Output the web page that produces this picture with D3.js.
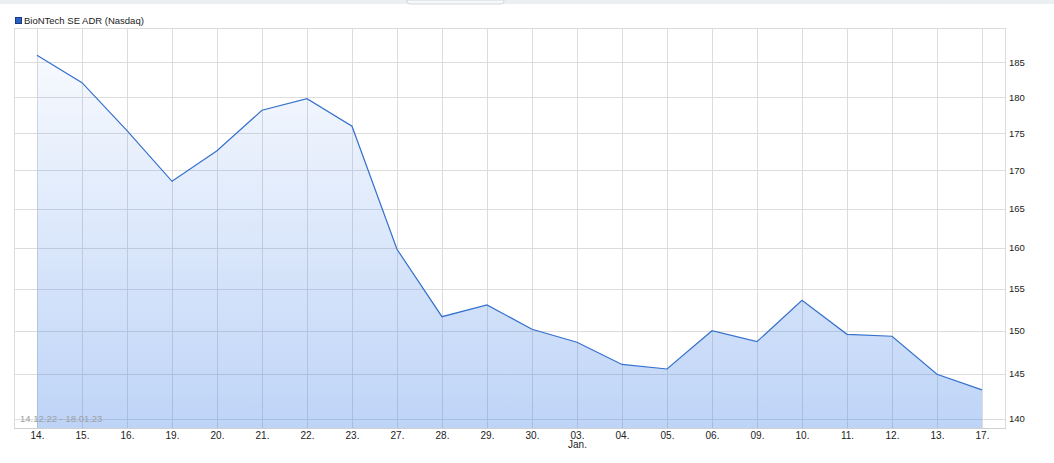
<!DOCTYPE html>
<html>
<head>
<meta charset="utf-8">
<script src="https://cdn.jsdelivr.net/npm/d3@7"></script>
<style>
  html, body { margin: 0; padding: 0; background: #fff; }
  svg { display: block; }
  text { font-family: "Liberation Sans", Arial, sans-serif; }
</style>
</head>
<body>
<svg id="chart" width="1054" height="463"></svg>
<script>
const categories = ["14.", "15.", "16.", "19.", "20.", "21.", "22.", "23.", "27.", "28.", "29.", "30.", "03.", "04.", "05.", "06.", "09.", "10.", "11.", "12.", "13.", "17."];
const subLabels = { "03.": "Jan." };
const prices = [186.0, 182.05, 175.35, 168.55, 172.63, 178.17, 179.79, 175.97, 159.83, 151.63, 153.03, 150.15, 148.63, 146.08, 145.56, 149.98, 148.70, 153.59, 149.56, 149.33, 144.96, 143.20];
const yTicks = [140, 145, 150, 155, 160, 165, 170, 175, 180, 185];
const seriesName = "BioNTech SE ADR (Nasdaq)";
const rangeLabel = "14.12.22 - 18.01.23";

(function () {
const svg = d3.select("#chart");
const pLeft = 14, pRight = 1005, pTop = 28, pBottom = 428;

// top bar and tab
svg.append("rect").attr("x", 0).attr("y", 0).attr("width", 1054).attr("height", 4).attr("fill", "#eceff2");
svg.append("path")
  .attr("d", "M407,0 L407,1 Q407,4 410,4 L501,4 Q504,4 504,1 L504,0 Z")
  .attr("fill", "#f7f8f9").attr("stroke", "#d4d7db").attr("stroke-width", 1);

const x = d3.scalePoint().domain(categories).range([37, 982]);
const y = d3.scaleLog().domain([139, 190]).range([pBottom, pTop]);

const defs = svg.append("defs");
const grad = defs.append("linearGradient").attr("id", "fillGrad")
  .attr("gradientUnits", "userSpaceOnUse").attr("x1", 0).attr("y1", pTop).attr("x2", 0).attr("y2", pBottom);
grad.append("stop").attr("offset", "0%").attr("stop-color", "rgb(69,132,232)").attr("stop-opacity", 0.02);
grad.append("stop").attr("offset", "100%").attr("stop-color", "rgb(69,132,232)").attr("stop-opacity", 0.35);

// gridlines
const grid = svg.append("g");
grid.selectAll("line.h").data(yTicks).enter().append("line")
  .attr("x1", pLeft).attr("x2", pRight)
  .attr("y1", d => Math.round(y(d)) + 0.5).attr("y2", d => Math.round(y(d)) + 0.5)
  .attr("stroke", "#dcdcdc");
grid.selectAll("line.v").data(categories).enter().append("line")
  .attr("x1", d => Math.round(x(d)) + 0.5).attr("x2", d => Math.round(x(d)) + 0.5)
  .attr("y1", pTop).attr("y2", pBottom)
  .attr("stroke", "#dcdcdc");

// frame
svg.append("rect").attr("x", pLeft + 0.5).attr("y", pTop + 0.5)
  .attr("width", pRight - pLeft).attr("height", pBottom - pTop)
  .attr("fill", "none").attr("stroke", "#dcdcdc");

// area
const data = categories.map((c, i) => ({ c, v: prices[i] }));
const area = d3.area().x(d => x(d.c)).y0(pBottom).y1(d => y(d.v));
svg.append("path").datum(data).attr("d", area).attr("fill", "url(#fillGrad)");
const line = d3.line().x(d => x(d.c)).y(d => y(d.v));
svg.append("path").datum(data).attr("d", line)
  .attr("fill", "none").attr("stroke", "#3570cc").attr("stroke-width", 1.2);

// range label
svg.append("text").attr("x", 20).attr("y", 422).attr("font-size", 9.5)
  .attr("fill", "#a0a0a0").text(rangeLabel);

// bottom axis line
svg.append("line").attr("x1", pLeft).attr("x2", pRight + 1).attr("y1", pBottom + 0.5).attr("y2", pBottom + 0.5)
  .attr("stroke", "#d0d0d0");

// x axis
const xAxis = d3.axisBottom(x).tickSize(0).tickPadding(0);
const gx = svg.append("g").attr("transform", `translate(0,${pBottom})`).call(xAxis);
gx.select(".domain").remove();
gx.selectAll(".tick text").attr("font-size", 10).attr("fill", "#222")
  .attr("font-family", "Liberation Sans, Arial, sans-serif")
  .attr("dy", 0).attr("y", 11);
gx.selectAll(".tick").filter(d => subLabels[d]).append("text")
  .attr("y", 20).attr("text-anchor", "middle").attr("font-size", 10).attr("fill", "#222")
  .text(d => subLabels[d]);

// y axis (right)
const yAxis = d3.axisRight(y).tickValues(yTicks).tickSize(0).tickPadding(4).tickFormat(d3.format("d"));
const gy = svg.append("g").attr("transform", `translate(${pRight},0)`).call(yAxis);
gy.select(".domain").remove();
gy.selectAll(".tick text").attr("font-size", 9.5).attr("fill", "#222")
  .attr("font-family", "Liberation Sans, Arial, sans-serif");

// legend
svg.append("rect").attr("x", 15.5).attr("y", 17.5).attr("width", 6).attr("height", 6)
  .attr("fill", "#2a5fc4").attr("stroke", "#1a3a80");
svg.append("text").attr("x", 24).attr("y", 24).attr("font-size", 9.5).attr("fill", "#222").text(seriesName);
})();
</script>
</body>
</html>
